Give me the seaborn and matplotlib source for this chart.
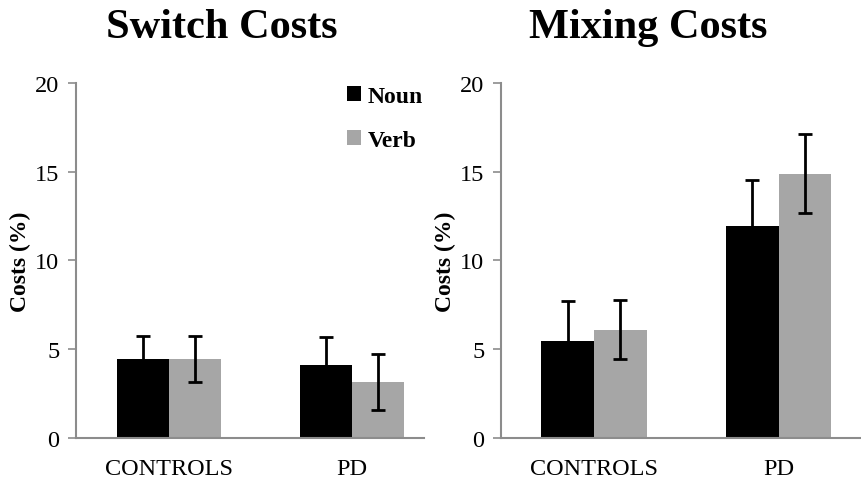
import matplotlib
matplotlib.use("Agg")
import matplotlib.pyplot as plt
import seaborn as sns
import pandas as pd
from matplotlib.patches import Patch

groups = ["CONTROLS", "PD"]
word_types = ["Noun", "Verb"]
switch_noun = [4.45, 4.1]
switch_verb = [4.45, 3.13]
switch_noun_err = [1.3, 1.6]
switch_verb_err = [1.3, 1.58]
mixing_noun = [5.47, 11.93]
mixing_verb = [6.1, 14.87]
mixing_noun_err = [2.23, 2.62]
mixing_verb_err = [1.65, 2.22]
yticks = [0, 5, 10, 15, 20]
titles = ["Switch Costs", "Mixing Costs"]

sns.set_style("white")
plt.rcParams["font.family"] = ["Liberation Serif", "DejaVu Serif"]
plt.rcParams["text.color"] = "black"
plt.rcParams["axes.labelcolor"] = "black"
plt.rcParams["xtick.color"] = "black"
plt.rcParams["ytick.color"] = "black"

colors = {"Noun": "#000000", "Verb": "#a6a6a6"}
spine_col = "#8c8c8c"

fig = plt.figure(figsize=(8.62, 4.85), dpi=100)
ax1 = fig.add_axes([76 / 862, 1 - 439 / 485, 348 / 862, 355.3 / 485])
ax2 = fig.add_axes([501 / 862, 1 - 439 / 485, 359 / 862, 355.3 / 485])


def make_df(noun, verb, nerr, verr):
    rows = []
    for i, g in enumerate(groups):
        rows.append({"group": g, "type": "Noun", "cost": noun[i], "err": nerr[i]})
        rows.append({"group": g, "type": "Verb", "cost": verb[i], "err": verr[i]})
    return pd.DataFrame(rows)


panels = [
    (ax1, make_df(switch_noun, switch_verb, switch_noun_err, switch_verb_err), (-0.508, 1.393)),
    (ax2, make_df(mixing_noun, mixing_verb, mixing_noun_err, mixing_verb_err), (-0.503, 1.44)),
]

for ax, df, xl in panels:
    sns.barplot(data=df, x="group", y="cost", hue="type", hue_order=word_types,
                order=groups, palette=colors, width=0.57, errorbar=None,
                saturation=1, ax=ax, legend=False, linewidth=0)
    # error bars at bar centers
    for patch_idx, t in enumerate(word_types):
        sub = df[df["type"] == t].set_index("group").loc[groups]
        conts = ax.containers[patch_idx]
        xs = [p.get_x() + p.get_width() / 2 for p in conts.patches]
        ax.errorbar(xs, sub["cost"].values, yerr=sub["err"].values, fmt="none",
                    ecolor="black", elinewidth=2, capsize=5, capthick=2, zorder=5)
    ax.set_ylim(0, 20)
    ax.set_xlim(*xl)
    ax.set_yticks(yticks)
    ax.set_xlabel("")
    ax.set_ylabel("Costs (%)", fontsize=17, fontweight="bold", labelpad=3)
    for s in ["top", "right"]:
        ax.spines[s].set_visible(False)
    for s in ["left", "bottom"]:
        ax.spines[s].set_color(spine_col)
        ax.spines[s].set_linewidth(1.5)
    ax.tick_params(axis="y", which="major", left=True, length=6, width=1.2,
                   color=spine_col, labelcolor="black", labelsize=17.5, pad=6)
    ax.tick_params(axis="x", bottom=False, labelcolor="black", labelsize=17.5, pad=11)

fig.text(222 / 862, 1 - 38 / 485, titles[0], ha="center", va="baseline",
         fontsize=30.5, fontweight="bold", color="black")
fig.text(648 / 862, 1 - 38 / 485, titles[1], ha="center", va="baseline",
         fontsize=30.5, fontweight="bold", color="black")

handles = [Patch(facecolor=colors[t], edgecolor="none", label=t) for t in word_types]
leg = ax1.legend(handles=handles, loc="upper right", bbox_to_anchor=(1.057, 1.05),
                 frameon=False, prop={"family": "Liberation Serif", "weight": "bold", "size": 17},
                 handlelength=0.6, handleheight=0.6, handletextpad=0.25, labelspacing=0.95)
for txt in leg.get_texts():
    txt.set_color("black")

fig.savefig("out.png", dpi=100)
